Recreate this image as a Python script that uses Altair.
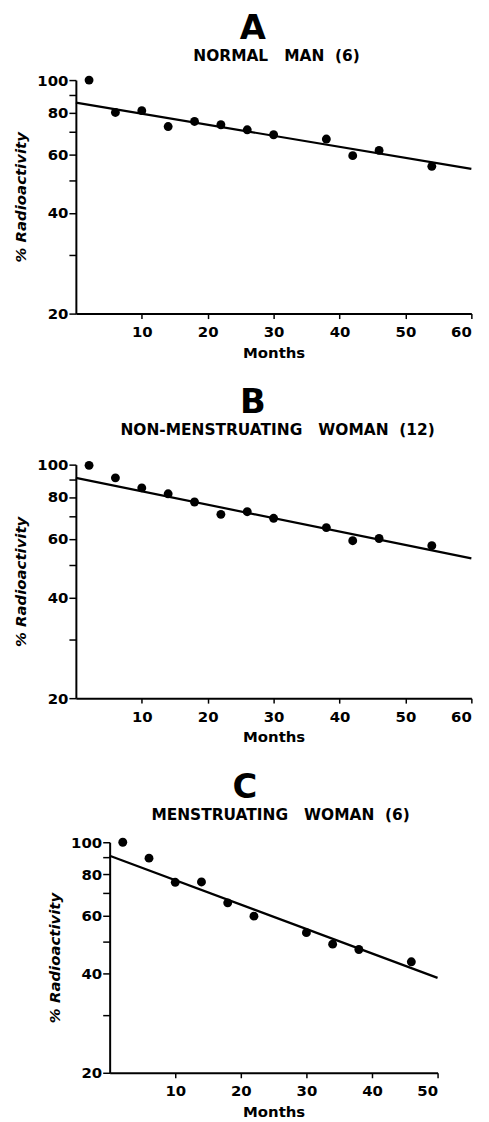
import altair as alt
import pandas as pd

# ---- data ----
a_months = [2, 6, 10, 14, 18, 22, 26, 30, 38, 42, 46, 54]
a_values = [100, 80, 81, 72.6, 75.2, 73.5, 71.0, 68.6, 66.6, 59.4, 61.6, 55.2]
a_fit_months = [0, 60]
a_fit_values = [85.6, 54.2]

b_months = [2, 6, 10, 14, 18, 22, 26, 30, 38, 42, 46, 54]
b_values = [99.5, 91.3, 85.2, 81.8, 77.3, 71.0, 72.3, 69.1, 64.8, 59.2, 60.1, 57.2]
b_fit_months = [0, 60]
b_fit_values = [91.3, 52.4]

c_months = [2, 6, 10, 14, 18, 22, 30, 34, 38, 46]
c_values = [100, 89.5, 75.6, 75.8, 65.5, 59.7, 53.2, 49.1, 47.3, 43.4]
c_fit_months = [0, 50]
c_fit_values = [91.0, 38.8]

y_ticks = [20, 30, 40, 50, 60, 70, 80, 90, 100]

FONT = "DejaVu Sans"
NB = "\u00a0"


def panel(letter, letter_dx, subtitle, sub_dx, months, values, fit_m, fit_v, xmax,
          width, height, offset):
    pts = pd.DataFrame({"Months": months, "Radioactivity": values})
    fit = pd.DataFrame({"Months": fit_m, "Radioactivity": fit_v})
    x = alt.X(
        "Months:Q",
        scale=alt.Scale(domain=[0, xmax], nice=False, zero=False),
        axis=alt.Axis(values=list(range(10, xmax + 1, 10)), title="Months"),
    )
    y = alt.Y(
        "Radioactivity:Q",
        scale=alt.Scale(type="log", domain=[20, 100], nice=False),
        axis=alt.Axis(
            values=y_ticks,
            labelExpr="datum.value % 20 == 0 ? toString(datum.value) : ''",
            title="% Radioactivity",
        ),
    )
    layers = [
        alt.Chart(fit).mark_line(color="black", strokeWidth=2.2).encode(x=x, y=y),
        alt.Chart(pts).mark_circle(color="black", opacity=1, size=80).encode(x=x, y=y),
    ]
    inner = alt.layer(*layers).properties(
        width=width,
        height=height,
        title=alt.TitleParams(
            text=subtitle,
            font=FONT,
            fontSize=15.5,
            fontWeight="bold",
            color="black",
            offset=offset,
            anchor="middle",
            dx=sub_dx,
        ),
    )
    return alt.vconcat(inner).properties(
        title=alt.TitleParams(
            text=letter,
            font=FONT,
            fontSize=34,
            fontWeight="bold",
            color="black",
            anchor="middle",
            dx=letter_dx,
            offset=3,
        )
    )


pa = panel("A", 8, "NORMAL" + NB * 3 + "MAN" + NB * 2 + "(6)", 3,
           a_months, a_values, a_fit_months, a_fit_values, 60, 398, 235, 9)
pb = panel("B", 8, "NON-MENSTRUATING" + NB * 3 + "WOMAN" + NB * 2 + "(12)", 4,
           b_months, b_values, b_fit_months, b_fit_values, 60, 398, 235, 19)
pc = panel("C", 0, "MENSTRUATING" + NB * 3 + "WOMAN" + NB * 2 + "(6)", 7,
           c_months, c_values, c_fit_months, c_fit_values, 50, 330, 232, 12)

chart = (
    alt.vconcat(pa, pb, pc, spacing=26, center=True)
    .properties(padding={"left": 5, "top": 0, "right": 5, "bottom": 0})
    .configure_view(stroke=None)
    .configure_axis(
        grid=False,
        domainColor="black",
        domainWidth=2,
        tickColor="black",
        tickWidth=1.5,
        labelFont=FONT,
        labelFontSize=15,
        labelFontWeight="bold",
        labelColor="black",
        titleFont=FONT,
        titleFontSize=15,
        titleFontWeight="bold",
        titleColor="black",
    )
    .configure_axisX(tickSize=5, labelPadding=6, titlePadding=6)
    .configure_axisY(tickSize=7, labelPadding=1, titlePadding=8, titleFontStyle="italic")
)

chart.save("out.html", embed_options={"renderer": "svg", "actions": False})
